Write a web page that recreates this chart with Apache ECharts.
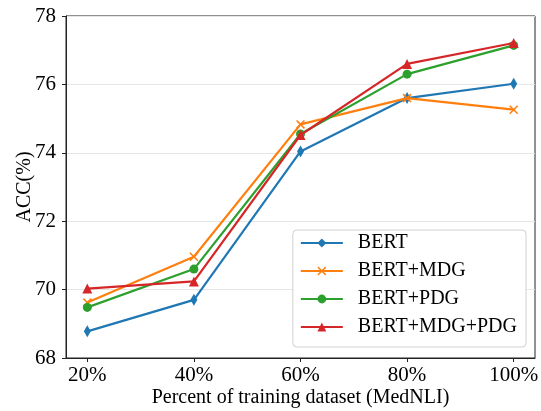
<!DOCTYPE html>
<html><head><meta charset="utf-8">
<script src="https://cdn.jsdelivr.net/npm/echarts@6/dist/echarts.min.js"></script>
<style>html,body{margin:0;padding:0;background:#fff}#c{width:541px;height:411px}</style>
</head><body><div id="c"></div>
<script>
var percents = [20, 40, 60, 80, 100];
var bert = [68.78, 69.70, 74.04, 75.60, 76.02];
var bertMdg = [69.62, 70.96, 74.83, 75.60, 75.26];
var bertPdg = [69.48, 70.60, 74.55, 76.30, 77.14];
var bertMdgPdg = [70.03, 70.24, 74.52, 76.60, 77.21];
var seriesNames = ['BERT', 'BERT+MDG', 'BERT+PDG', 'BERT+MDG+PDG'];
var yTicks = [68, 70, 72, 74, 76, 78];

var FONT = '"Liberation Serif", "DejaVu Serif", serif';
var colors = ['#1f77b4', '#ff7f0e', '#2ca02c', '#d62728'];
var xPath = 'path://M0,1.2L1.2,0L5,3.8L8.8,0L10,1.2L6.2,5L10,8.8L8.8,10L5,6.2L1.2,10L0,8.8L3.8,5Z';
var symbols = ['diamond', xPath, 'circle', 'triangle'];
var sizes = [[7, 12], 9, 9, 10];
var allData = [bert, bertMdg, bertPdg, bertMdgPdg];

function pairs(vals) { return percents.map(function (p, i) { return [p, vals[i]]; }); }

var chart = echarts.init(document.getElementById('c'), null, {renderer: 'canvas'});
chart.setOption({
  animation: false,
  color: colors,
  grid: {left: 66, right: 6, top: 16, bottom: 53, containLabel: false, outerBoundsMode: 'none', show: true, borderColor: '#222', borderWidth: 1, backgroundColor: 'transparent'},
  legend: {
    right: 15, top: 230,
    orient: 'vertical',
    backgroundColor: '#fff',
    borderColor: '#d0d0d0', borderWidth: 1, borderRadius: 4,
    padding: [2, 9, 9, 7],
    itemGap: 6,
    itemWidth: 42, itemHeight: 11,
    textStyle: {fontFamily: FONT, fontSize: 20, lineHeight: 22, color: '#000', padding: [0, 0, 0, 10]},
    data: seriesNames
  },
  xAxis: {
    type: 'value', min: 16, max: 104,
    name: 'Percent of training dataset (MedNLI)', nameLocation: 'middle', nameGap: 30, nameMoveOverlap: false,
    nameTextStyle: {fontFamily: FONT, fontSize: 20, color: '#000', verticalAlign: 'top'},
    axisLine: {show: true, lineStyle: {color: '#222'}},
    axisTick: {show: true, inside: false, length: 4, customValues: percents, lineStyle: {color: '#222'}},
    axisLabel: {customValues: percents, formatter: function (v) { return v + '%'; }, fontFamily: FONT, fontSize: 21, color: '#000', margin: 7},
    splitLine: {show: false}
  },
  yAxis: {
    type: 'value', min: 68, max: 78, interval: 2,
    name: 'ACC(%)', nameLocation: 'middle', nameGap: 31, nameRotate: 90, nameMoveOverlap: false,
    nameTextStyle: {fontFamily: FONT, fontSize: 20, color: '#000'},
    axisLine: {show: true, lineStyle: {color: '#222'}},
    axisTick: {show: true, inside: false, length: 4, lineStyle: {color: '#222'}},
    axisLabel: {formatter: function (v) { return yTicks.indexOf(v) >= 0 ? String(v) : ''; }, fontFamily: FONT, fontSize: 21, color: '#000', margin: 10},
    splitLine: {show: true, lineStyle: {color: '#e6e6e6', width: 1}}
  },
  series: seriesNames.map(function (n, i) {
    return {
      name: n, type: 'line', data: pairs(allData[i]),
      symbol: symbols[i], symbolSize: sizes[i], showSymbol: true,
      lineStyle: {width: 2.2, color: colors[i]},
      itemStyle: {color: colors[i], borderWidth: 0},
      z: 2 + i
    };
  })
});
</script></body></html>
